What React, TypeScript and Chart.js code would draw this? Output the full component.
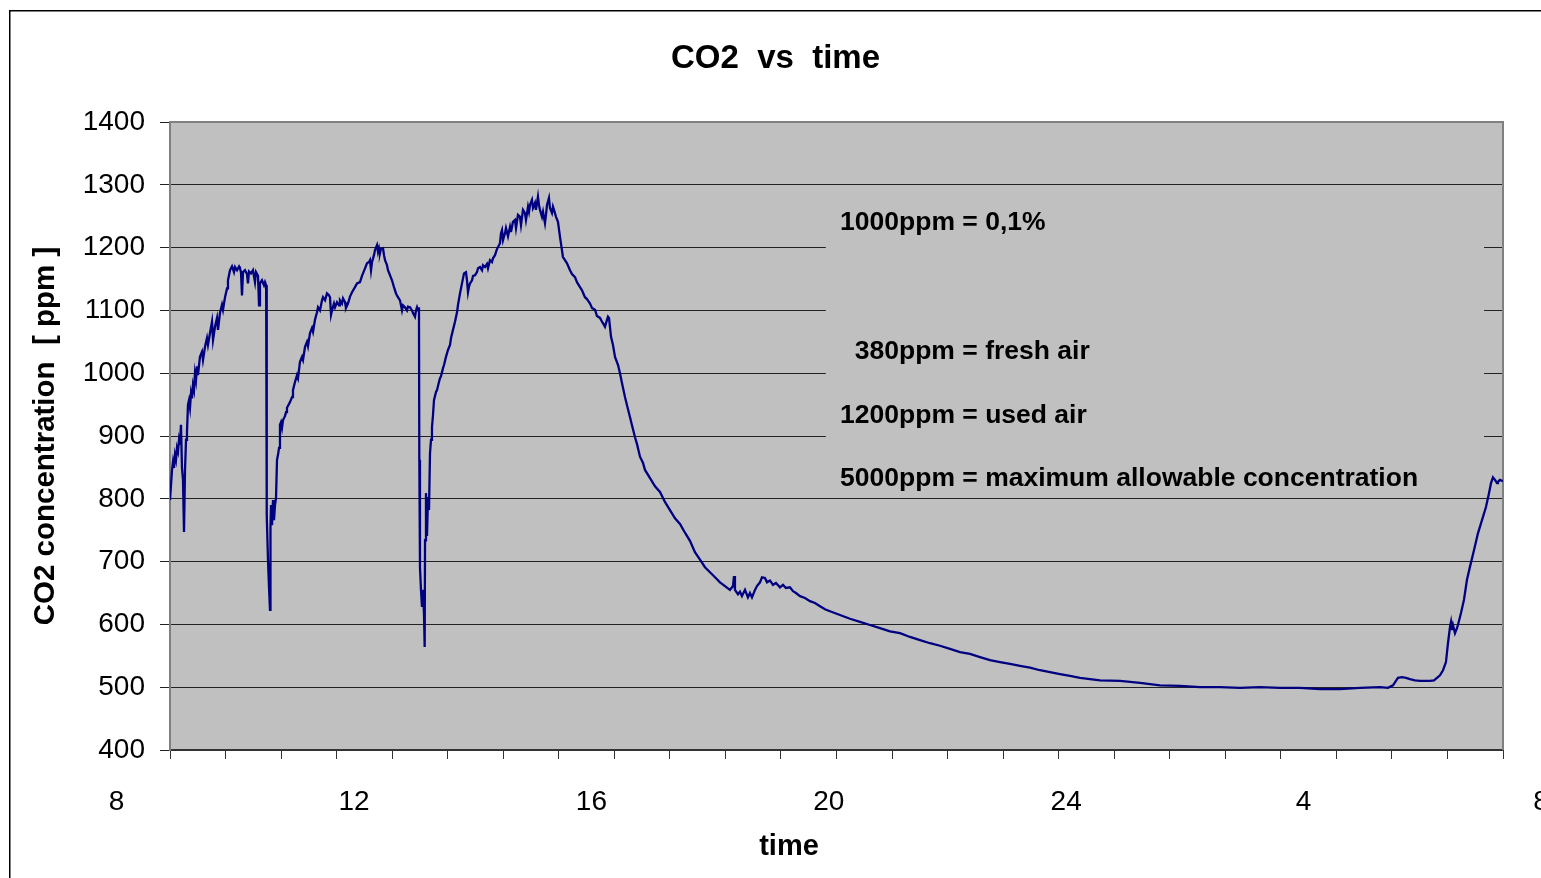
import { useEffect, useRef } from "react";
import { Chart, registerables } from "chart.js";

Chart.register(...registerables);

// ---- data (hours of day, continuing past midnight as 24+) ----
const TIME_H = [
  8.9, 8.917, 8.934, 8.951, 8.967, 8.984, 9.001, 9.018, 9.035, 9.052, 9.068, 9.085, 9.102, 9.119, 9.136, 9.153,
  9.17, 9.186, 9.203, 9.22, 9.237, 9.254, 9.27, 9.287, 9.304, 9.321, 9.338, 9.355, 9.371, 9.405, 9.439, 9.456,
  9.49, 9.523, 9.54, 9.574, 9.608, 9.625, 9.658, 9.692, 9.709, 9.742, 9.776, 9.793, 9.827, 9.861, 9.877, 9.911,
  9.945, 9.978, 9.995, 10.029, 10.063, 10.079, 10.096, 10.113, 10.13, 10.164, 10.197, 10.214, 10.231, 10.265,
  10.298, 10.332, 10.349, 10.383, 10.4, 10.416, 10.45, 10.484, 10.501, 10.52, 10.526, 10.534, 10.551, 10.568,
  10.585, 10.593, 10.602, 10.619, 10.636, 10.652, 10.669, 10.686, 10.703, 10.72, 10.737, 10.753, 10.77, 10.787,
  10.804, 10.838, 10.855, 10.871, 10.905, 10.922, 10.956, 10.972, 11.006, 11.04, 11.057, 11.09, 11.124, 11.141,
  11.175, 11.208, 11.225, 11.259, 11.293, 11.31, 11.343, 11.377, 11.394, 11.427, 11.461, 11.478, 11.512, 11.545,
  11.579, 11.596, 11.613, 11.63, 11.663, 11.68, 11.714, 11.748, 11.764, 11.798, 11.815, 11.849, 11.865, 11.899,
  11.933, 11.967, 12.017, 12.051, 12.101, 12.135, 12.152, 12.186, 12.219, 12.253, 12.27, 12.287, 12.304, 12.337,
  12.354, 12.388, 12.405, 12.422, 12.438, 12.455, 12.489, 12.506, 12.523, 12.556, 12.573, 12.607, 12.64, 12.674,
  12.708, 12.741, 12.775, 12.809, 12.826, 12.859, 12.893, 12.91, 12.944, 12.977, 12.994, 13.028, 13.045, 13.062,
  13.079, 13.095, 13.101, 13.112, 13.129, 13.146, 13.163, 13.18, 13.191, 13.197, 13.213, 13.23, 13.247, 13.264,
  13.281, 13.298, 13.314, 13.331, 13.348, 13.382, 13.399, 13.432, 13.449, 13.466, 13.5, 13.517, 13.55, 13.584,
  13.618, 13.635, 13.668, 13.702, 13.736, 13.753, 13.786, 13.82, 13.854, 13.887, 13.904, 13.921, 13.938, 13.955,
  13.989, 14.006, 14.039, 14.073, 14.09, 14.123, 14.157, 14.174, 14.207, 14.241, 14.258, 14.292, 14.325, 14.342,
  14.376, 14.41, 14.427, 14.46, 14.477, 14.494, 14.511, 14.544, 14.561, 14.595, 14.629, 14.645, 14.679, 14.713,
  14.73, 14.763, 14.797, 14.814, 14.848, 14.881, 14.898, 14.932, 14.949, 14.966, 14.999, 15.016, 15.05, 15.066,
  15.1, 15.117, 15.134, 15.168, 15.185, 15.218, 15.235, 15.252, 15.285, 15.302, 15.336, 15.353, 15.37, 15.404,
  15.437, 15.471, 15.504, 15.521, 15.555, 15.589, 15.64, 15.673, 15.724, 15.757, 15.808, 15.842, 15.892, 15.926,
  15.977, 16.01, 16.061, 16.094, 16.145, 16.179, 16.212, 16.229, 16.263, 16.28, 16.297, 16.331, 16.364, 16.398,
  16.449, 16.482, 16.516, 16.566, 16.6, 16.651, 16.684, 16.735, 16.769, 16.819, 16.87, 16.903, 16.988, 17.072,
  17.156, 17.24, 17.324, 17.409, 17.493, 17.577, 17.661, 17.745, 17.83, 17.914, 17.998, 18.083, 18.167, 18.251,
  18.335, 18.386, 18.403, 18.419, 18.47, 18.504, 18.537, 18.588, 18.638, 18.672, 18.706, 18.757, 18.79, 18.841,
  18.874, 18.925, 18.959, 19.009, 19.06, 19.11, 19.178, 19.228, 19.279, 19.346, 19.397, 19.447, 19.515, 19.599,
  19.683, 19.767, 19.852, 19.936, 20.02, 20.189, 20.357, 20.526, 20.694, 20.863, 21.031, 21.2, 21.368, 21.537,
  21.705, 21.874, 22.042, 22.211, 22.379, 22.548, 22.716, 22.885, 23.053, 23.222, 23.39, 23.559, 23.727, 23.896,
  24.064, 24.233, 24.401, 24.57, 24.907, 25.244, 25.581, 25.918, 26.254, 26.591, 26.928, 27.265, 27.602, 27.939,
  28.276, 28.613, 28.95, 29.287, 29.422, 29.506, 29.59, 29.658, 29.725, 29.793, 29.877, 29.961, 30.045, 30.13,
  30.197, 30.248, 30.298, 30.349, 30.399, 30.433, 30.467, 30.484, 30.5, 30.517, 30.551, 30.584, 30.601, 30.652,
  30.702, 30.753, 30.804, 30.871, 30.938, 31.006, 31.073, 31.124, 31.158, 31.191, 31.225, 31.259, 31.275, 31.309,
  31.36,
];

const CO2_PPM = [
  798, 822, 846, 859, 849, 870, 862, 881, 875, 894, 886, 918, 849, 830, 747, 846,
  894, 906, 950, 957, 945, 968, 960, 981, 973, 1000, 989, 1011, 997, 1026, 1034, 1021,
  1042, 1056, 1045, 1064, 1082, 1053, 1074, 1088, 1069, 1096, 1109, 1101, 1121, 1135, 1148, 1164,
  1170, 1161, 1169, 1164, 1170, 1167, 1161, 1124, 1161, 1164, 1158, 1143, 1162, 1159,
  1164, 1145, 1161, 1155, 1108, 1143, 1148, 1140, 1145, 1140, 973, 774, 703, 660,
  623, 755, 790, 758, 798, 766, 790, 801, 862, 870, 881, 918, 922, 913,
  925, 932, 938, 945, 951, 954, 962, 973, 986, 997, 992, 1018, 1026, 1021,
  1042, 1050, 1043, 1064, 1072, 1066, 1085, 1097, 1105, 1100, 1116, 1121, 1116, 1127,
  1124, 1121, 1093, 1100, 1111, 1105, 1113, 1108, 1116, 1111, 1119, 1113, 1104, 1111,
  1122, 1129, 1137, 1143, 1145, 1155, 1159, 1167, 1175, 1177, 1180, 1164, 1177, 1188,
  1196, 1204, 1193, 1199, 1191, 1198, 1199, 1188, 1180, 1172, 1164, 1156, 1148, 1137,
  1127, 1121, 1116, 1100, 1108, 1105, 1100, 1106, 1105, 1100, 1096, 1090, 1100, 1105,
  1100, 1105, 862, 691, 655, 628, 655, 615, 564, 734, 809, 741, 803, 782,
  873, 894, 914, 933, 957, 970, 973, 986, 992, 995, 1008, 1013, 1026, 1037,
  1045, 1056, 1069, 1082, 1097, 1109, 1127, 1143, 1159, 1161, 1148, 1129, 1138, 1143,
  1148, 1155, 1156, 1161, 1167, 1169, 1164, 1172, 1169, 1174, 1167, 1180, 1177, 1183,
  1188, 1198, 1201, 1207, 1223, 1228, 1212, 1223, 1231, 1218, 1233, 1225, 1241, 1244,
  1231, 1252, 1249, 1236, 1260, 1255, 1244, 1265, 1257, 1268, 1276, 1263, 1271, 1260,
  1281, 1268, 1260, 1249, 1257, 1239, 1252, 1268, 1279, 1263, 1255, 1265, 1260, 1249,
  1241, 1217, 1196, 1185, 1180, 1175, 1164, 1158, 1153, 1145, 1137, 1132, 1121, 1118,
  1111, 1104, 1101, 1091, 1088, 1082, 1077, 1074, 1085, 1090, 1088, 1058, 1045, 1026,
  1013, 1000, 984, 962, 949, 930, 917, 898, 887, 867, 857, 846, 833, 820,
  811, 795, 782, 769, 760, 746, 733, 715, 703, 691, 683, 675, 667, 661,
  655, 661, 677, 655, 648, 652, 645, 655, 643, 650, 643, 655, 661, 667,
  675, 674, 667, 670, 663, 666, 659, 663, 658, 659, 653, 650, 645, 642,
  637, 634, 629, 624, 621, 615, 609, 604, 599, 594, 589, 586, 580, 575,
  570, 566, 561, 556, 553, 548, 543, 540, 537, 534, 531, 527, 524, 521,
  518, 515, 513, 511, 510, 507, 503, 502, 500, 500, 499, 500, 499, 499,
  497, 497, 499, 500, 499, 503, 515, 516, 515, 513, 511, 510, 510, 510,
  511, 515, 519, 527, 540, 570, 596, 604, 591, 599, 586, 594, 599, 618,
  639, 671, 692, 718, 745, 766, 787, 809, 825, 834, 830, 825, 827, 830,
  828,
];

const X_MIN = 8.9;
const X_MAX = 31.36;
const TIME_TICKS = [8, 12, 16, 20, 24, 28, 32];
const TIME_TICK_LABELS = ["8", "12", "16", "20", "24", "4", "8"];
const MINOR_DIVISIONS = 24;

const Y_MIN = 400;
const Y_MAX = 1400;
const Y_STEP = 100;

const CHART_TITLE = "CO2  vs  time";
const X_TITLE = "time";
const X_TITLE_HOUR = 19.33;
const Y_TITLE = "CO2 concentration  [ ppm ]";

const NOTE_LINES = [
  "1000ppm = 0,1%",
  "  380ppm = fresh air",
  "1200ppm = used air",
  "5000ppm = maximum allowable concentration",
];
const NOTE_PPM = [1239, 1035, 933, 832];
const NOTE_HOUR = 20.19;
const NOTE_BOX_HOURS = [19.95, 31.04];
const NOTE_BOX_PPM = [1296, 805];

const FONT = "'Liberation Sans', Arial, Helvetica, sans-serif";

const decorPlugin = {
  id: "decor",
  beforeDraw(chart: any) {
    const { ctx, chartArea: a } = chart;
    ctx.save();
    ctx.fillStyle = "#ffffff";
    ctx.fillRect(0, 0, chart.width, chart.height);
    ctx.fillStyle = "#C0C0C0";
    ctx.fillRect(a.left, a.top, a.right - a.left, a.bottom - a.top);
    ctx.strokeStyle = "#000000";
    ctx.lineWidth = 1.5;
    ctx.strokeRect(9.75, 10.75, chart.width + 60, chart.height + 60);
    ctx.restore();
  },
  beforeDatasetsDraw(chart: any) {
    const { ctx, chartArea: a, scales } = chart;
    const xs = scales.x;
    const ys = scales.y;
    ctx.save();
    const bx0 = xs.getPixelForValue(NOTE_BOX_HOURS[0]);
    const bx1 = xs.getPixelForValue(NOTE_BOX_HOURS[1]);
    const by0 = ys.getPixelForValue(NOTE_BOX_PPM[0]);
    const by1 = ys.getPixelForValue(NOTE_BOX_PPM[1]);
    ctx.fillStyle = "#C0C0C0";
    ctx.fillRect(bx0, by0, bx1 - bx0, by1 - by0);

    ctx.strokeStyle = "#808080";
    ctx.lineWidth = 2;
    ctx.beginPath();
    ctx.moveTo(a.left, a.top);
    ctx.lineTo(a.right, a.top);
    ctx.lineTo(a.right, a.bottom);
    ctx.stroke();

    ctx.fillStyle = "#000000";
    ctx.font = `bold 26.5px ${FONT}`;
    ctx.textAlign = "left";
    ctx.textBaseline = "middle";
    const nx = xs.getPixelForValue(NOTE_HOUR);
    NOTE_LINES.forEach((t, i) => {
      ctx.fillText(t, nx, ys.getPixelForValue(NOTE_PPM[i]));
    });

    // x-axis title (placed off-centre as in the original)
    ctx.font = `bold 29px ${FONT}`;
    ctx.textAlign = "center";
    ctx.fillText(X_TITLE, xs.getPixelForValue(X_TITLE_HOUR), xs.bottom - 31);
    ctx.restore();
  },
};

export default function App() {
  const canvasRef = useRef<HTMLCanvasElement | null>(null);

  useEffect(() => {
    if (!canvasRef.current) return;
    Chart.defaults.font.family = FONT;
    Chart.defaults.color = "#000";
    const chart = new Chart(canvasRef.current, {
      type: "line",
      data: {
        datasets: [
          {
            label: "CO2",
            data: TIME_H.map((h, i) => ({ x: h, y: CO2_PPM[i] })),
            borderColor: "#000080",
            borderWidth: 2.3,
            pointRadius: 0,
            fill: false,
            tension: 0,
            xAxisID: "x",
            yAxisID: "y",
          },
        ],
      },
      options: {
        responsive: false,
        animation: false,
        devicePixelRatio: 1,
        events: [],
        layout: { padding: { left: 10, right: 0, top: 0, bottom: 0 } },
        plugins: {
          legend: { display: false },
          tooltip: { enabled: false },
          title: {
            display: true,
            text: CHART_TITLE,
            color: "#000",
            font: { size: 33, weight: "bold", lineHeight: 1.2 },
            padding: { top: 39.2, bottom: 43.2 },
          },
        },
        scales: {
          x: {
            type: "linear",
            position: "bottom",
            min: X_MIN,
            max: X_MAX,
            weight: 1,
            afterBuildTicks: (s: any) => {
              s.ticks = TIME_TICKS.map((v) => ({ value: v }));
            },
            afterFit: (s: any) => {
              s.height = 119;
              s.paddingLeft = 0;
              s.paddingRight = 0;
            },
            grid: { display: false, drawTicks: false },
            border: { display: false },
            ticks: {
              autoSkip: false,
              maxRotation: 0,
              minRotation: 0,
              padding: 26,
              color: "#000",
              font: { size: 28 },
              callback: (_v: any, i: number) => TIME_TICK_LABELS[i],
            },
            title: { display: false },
          },
          xt: {
            type: "linear",
            position: "bottom",
            min: 0,
            max: MINOR_DIVISIONS,
            weight: 0,
            afterFit: (s: any) => {
              s.height = 9;
              s.paddingLeft = 0;
              s.paddingRight = 0;
            },
            ticks: { display: false, stepSize: 1 },
            grid: { drawOnChartArea: false, drawTicks: true, tickLength: 9, color: "#333", lineWidth: 1 },
            border: { display: true, color: "#333", width: 2 },
          },
          y: {
            type: "linear",
            position: "left",
            min: Y_MIN,
            max: Y_MAX,
            afterFit: (s: any) => {
              s.width = 160;
            },
            ticks: {
              stepSize: Y_STEP,
              padding: 15,
              color: "#000",
              font: { size: 28 },
              callback: (v: any) => String(v),
            },
            grid: { color: "#222", lineWidth: 1, tickLength: 10 },
            border: { color: "#808080", width: 2 },
            title: {
              display: true,
              text: Y_TITLE,
              color: "#000",
              font: { size: 29.5, weight: "bold" },
              padding: { top: 18.3, bottom: 0 },
            },
          },
          yr: {
            type: "linear",
            position: "right",
            min: 0,
            max: 1,
            afterFit: (s: any) => {
              s.width = 38;
            },
            ticks: { display: false },
            grid: { display: false },
            border: { display: false },
          },
        },
      } as any,
      plugins: [decorPlugin],
    });
    return () => chart.destroy();
  }, []);

  return (
    <div style={{ position: "fixed", left: 0, top: 0, width: 1541, height: 878, background: "#fff", overflow: "hidden" }}>
      <canvas ref={canvasRef} width={1541} height={878} style={{ display: "block", width: 1541, height: 878 }} />
    </div>
  );
}
